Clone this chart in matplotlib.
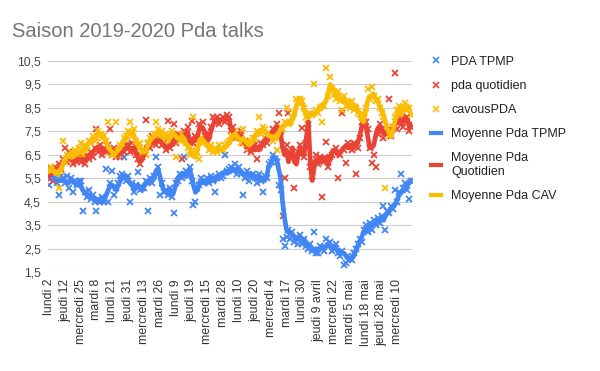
import numpy as np
import matplotlib.pyplot as plt
from matplotlib.lines import Line2D

plt.rcParams['font.family'] = ['Liberation Sans', 'DejaVu Sans']

# x axis labels (one every 8 broadcasts)
tick_labels = ["lundi 2", "jeudi 12", "mercredi 25", "mardi 8", "lundi 21", "jeudi 31",
               "mercredi 13", "mardi 26", "lundi 9", "jeudi 19", "mercredi 15", "mardi 28",
               "lundi 10", "jeudi 20", "mercredi 4", "mardi 17", "lundi 30", "jeudi 9 avril",
               "mercredi 22", "mardi 5 mai", "lundi 18 mai", "jeudi 28 mai", "mercredi 10"]

# PDA TPMP (scatter)
pda_tpmp = [
    5.2, 5.9, 5.5, 5.7, 5.3, 4.8, 5.6, 5.5,
    5.3, 5.6, 5.1, 5.5, 4.9, 5.4, 5.2, 5.4,
    5.4, 4.1, 4.9, 4.7, 5.0, 4.6, 4.8, 4.5,
    4.1, 4.6, 4.5, 4.7, 4.5, 5.9, 4.5, 5.3,
    5.8, 4.8, 5.1, 5.3, 5.6, 5.7, 6.4, 5.4,
    5.6, 4.5, 5.3, 4.9, 5.2, 5.75, 5.0, 5.1,
    5.1, 5.4, 4.1, 5.5, 5.3, 5.6, 6.4, 6.0,
    4.8, 5.3, 4.9, 5.0, 4.8, 5.1, 4.7, 4.0,
    5.3, 5.4, 5.7, 5.5, 6.4, 5.8, 5.6, 6.0,
    5.4, 4.35, 4.5, 5.1, 5.2, 5.5, 5.3, 5.4,
    5.5, 5.3, 5.6, 5.4, 4.9, 5.5, 5.7, 5.5,
    5.6, 6.5, 5.8, 5.9, 6.0, 5.8, 6.1, 5.7,
    6.0, 5.7, 4.8, 5.5, 5.8, 5.4, 5.6, 5.7,
    5.5, 5.3, 5.7, 5.4, 4.9, 5.6, 5.5, 6.1,
    6.2, 6.5, 6.3, 6.2, 5.2, 5.0, 2.9, 2.6,
    3.0, 3.3, 2.9, 3.2, 2.8, 3.0, 2.7, 3.1,
    2.7, 2.9, 2.6, 2.5, 2.7, 2.4, 3.2, 2.3,
    2.3, 2.6, 2.5, 2.4, 2.9, 2.6, 2.8, 2.4,
    2.5, 2.7, 2.3, 2.2, 2.4, 1.8, 1.9, 2.2,
    2.1, 2.0, 2.3, 2.5, 2.7, 2.9, 2.8, 3.3,
    3.5, 3.2, 3.6, 3.3, 3.7, 3.5, 3.8, 3.6,
    3.9, 4.3, 3.3, 4.1, 4.0, 4.3, 4.2, 5.0,
    4.5, 4.9, 5.7, 5.1, 5.3, 5.0, 4.6, 5.4]

# pda quotidien (scatter)
pda_quot = [
    5.7, 5.5, 5.4, 6.0, 5.8, 6.1, 5.9, 6.3,
    6.8, 6.2, 6.6, 6.4, 6.1, 6.5, 6.2, 6.4,
    6.2, 6.4, 6.1, 6.5, 6.3, 6.6, 6.4, 6.8,
    7.6, 6.6, 6.9, 6.5, 6.8, 6.6, 6.9, 7.6,
    6.5, 6.8, 6.4, 6.7, 6.4, 6.8, 6.6, 6.9,
    6.9, 6.6, 7.0, 6.7, 6.5, 6.3, 6.1, 6.4,
    6.7, 8.0, 7.0, 6.8, 7.3, 7.1, 6.9, 7.2,
    7.3, 6.9, 7.0, 6.7, 7.95, 6.8, 7.0, 7.8,
    7.0, 7.4, 7.2, 6.3, 7.5, 7.3, 7.7, 7.0,
    7.95, 7.0, 7.3, 7.2, 7.8, 7.6, 7.9, 7.3,
    7.0, 7.4, 7.7, 8.1, 7.9, 8.1, 7.8, 8.0,
    8.1, 7.9, 8.2, 8.1, 7.5, 7.7, 7.2, 7.4,
    7.3, 7.5, 7.0, 7.1, 6.7, 7.0, 6.6, 6.9,
    6.9, 6.3, 6.8, 7.0, 6.9, 7.2, 7.0, 7.4,
    7.2, 7.6, 7.4, 7.8, 8.3, 7.5, 3.9, 5.5,
    6.9, 8.3, 6.4, 6.5, 5.1, 6.3, 6.6, 6.9,
    7.65, 6.4, 7.0, 7.8, 6.0, 5.6, 6.2, 6.5,
    6.1, 6.4, 4.7, 6.2, 7.05, 6.0, 6.4, 6.5,
    6.6, 6.8, 5.5, 6.5, 8.3, 6.7, 6.15, 7.0,
    6.9, 6.7, 7.0, 5.7, 6.8, 7.2, 7.9, 8.1,
    7.9, 7.6, 6.8, 6.15, 6.5, 6.0, 7.4, 7.8,
    7.5, 7.2, 7.6, 7.4, 8.9, 7.3, 7.7, 10.0,
    7.6, 8.2, 7.9, 7.7, 8.0, 8.1, 7.5, 7.7]

# cavousPDA (scatter)
cavous = [
    5.9, 6.0, 5.7, 5.9, 5.5, 5.1, 5.8, 7.1,
    6.2, 6.5, 6.3, 6.6, 6.4, 6.7, 6.5, 6.8,
    7.0, 6.5, 6.9, 6.7, 7.1, 7.0, 7.3, 7.1,
    7.2, 7.5, 7.4, 7.2, 7.3, 7.1, 7.9, 6.6,
    6.5, 6.7, 7.9, 6.5, 6.9, 6.8, 7.2, 7.3,
    7.5, 7.9, 7.3, 7.6, 7.1, 6.8, 7.0, 6.5,
    6.7, 6.5, 7.0, 7.2, 7.1, 7.4, 7.9, 7.6,
    7.3, 7.5, 7.1, 7.4, 7.3, 7.1, 7.5, 7.2,
    6.4, 7.3, 7.1, 7.4, 7.2, 7.0, 6.8, 6.5,
    6.7, 8.1, 6.5, 6.6, 6.3, 7.2, 7.0, 7.1,
    7.0, 6.7, 6.9, 6.6, 6.8, 6.6, 6.9, 6.8,
    6.7, 6.9, 7.0, 7.1, 7.3, 7.4, 7.5, 7.2,
    7.3, 7.0, 7.6, 7.0, 7.1, 6.8, 7.1, 7.2,
    7.2, 7.5, 8.1, 7.4, 7.7, 7.6, 7.3, 7.4,
    7.4, 7.1, 7.2, 6.7, 7.5, 7.7, 7.6, 7.9,
    8.5, 7.8, 7.9, 8.1, 8.3, 8.9, 8.7, 8.9,
    8.8, 8.5, 8.1, 8.0, 8.3, 8.2, 9.5, 8.4,
    8.3, 8.5, 7.9, 8.6, 10.2, 9.0, 9.8, 9.3,
    9.1, 8.9, 9.2, 8.8, 8.4, 9.0, 8.6, 8.7,
    8.5, 8.8, 8.4, 8.5, 8.3, 8.2, 8.1, 7.8,
    8.5, 9.3, 8.9, 9.4, 9.0, 8.8, 8.9, 8.5,
    8.3, 8.1, 5.1, 7.5, 7.3, 7.4, 7.7, 8.1,
    8.4, 8.6, 8.3, 8.5, 8.7, 8.4, 8.5, 8.2]

# Moyenne Pda TPMP
moy_tpmp = [
    5.6, 5.6, 5.5, 5.5, 5.4, 5.4, 5.4, 5.4,
    5.4, 5.3, 5.3, 5.4, 5.4, 5.3, 5.2, 5.3,
    5.2, 5.0, 4.9, 4.8, 4.8, 4.7, 4.7, 4.6,
    4.6, 4.5, 4.5, 4.6, 4.6, 4.8, 5.0, 5.2,
    5.2, 5.1, 5.0, 5.2, 5.4, 5.5, 5.6, 5.5,
    5.4, 5.3, 5.2, 5.0, 5.1, 5.2, 5.1, 5.0,
    5.2, 5.3, 5.3, 5.4, 5.5, 5.5, 5.8, 5.9,
    5.6, 5.2, 5.0, 4.9, 4.9, 5.0, 4.8, 4.9,
    5.2, 5.5, 5.6, 5.7, 5.7, 5.6, 5.8, 5.9,
    5.6, 5.2, 4.9, 5.0, 5.3, 5.3, 5.4, 5.3,
    5.4, 5.5, 5.4, 5.5, 5.4, 5.6, 5.5, 5.6,
    5.7, 5.8, 5.7, 5.8, 5.9, 5.9, 5.8, 5.9,
    5.8, 5.8, 5.7, 5.6, 5.7, 5.6, 5.7, 5.6,
    5.6, 5.5, 5.6, 5.5, 5.5, 5.4, 5.6, 6.0,
    6.1, 6.3, 6.4, 6.3, 5.9, 5.5, 4.5, 3.8,
    3.3, 3.2, 3.1, 3.1, 3.0, 2.9, 2.9, 3.0,
    2.8, 2.9, 2.7, 2.6, 2.6, 2.5, 2.4, 2.5,
    2.4, 2.5, 2.6, 2.5, 2.6, 2.7, 2.6, 2.5,
    2.6, 2.5, 2.4, 2.3, 2.3, 2.3, 2.2, 2.1,
    2.0, 2.1, 2.2, 2.4, 2.6, 2.8, 3.0, 3.2,
    3.3, 3.4, 3.4, 3.5, 3.6, 3.6, 3.7, 3.7,
    3.8, 3.7, 3.9, 4.0, 4.1, 4.2, 4.3, 4.4,
    4.6, 4.8, 4.9, 5.0, 5.1, 5.2, 5.3, 5.4]

# Moyenne Pda Quotidien
moy_quot = [
    5.6, 5.7, 5.8, 5.8, 5.9, 5.9, 6.0, 6.1,
    6.3, 6.4, 6.4, 6.3, 6.3, 6.2, 6.3, 6.3,
    6.3, 6.2, 6.3, 6.3, 6.4, 6.5, 6.6, 6.7,
    6.8, 6.8, 6.7, 6.7, 6.6, 6.7, 6.7, 6.6,
    6.7, 6.6, 6.5, 6.5, 6.6, 6.6, 6.7, 6.8,
    6.8, 6.8, 6.7, 6.8, 6.6, 6.4, 6.2, 6.3,
    6.5, 6.8, 6.9, 7.0, 7.1, 7.0, 7.1, 7.1,
    7.1, 7.0, 6.9, 6.8, 6.8, 6.9, 6.9, 7.1,
    7.2, 7.2, 7.3, 7.3, 7.2, 7.4, 7.5, 7.1,
    7.1, 7.2, 7.1, 7.3, 7.6, 7.7, 7.6, 7.4,
    7.1, 7.2, 7.6, 7.8, 8.0, 8.0, 7.9, 8.0,
    8.0, 8.1, 8.1, 8.0, 7.6, 7.5, 7.3, 7.3,
    7.4, 7.3, 7.2, 7.0, 6.9, 6.8, 6.8, 6.7,
    6.7, 6.8, 6.7, 6.8, 7.0, 7.1, 7.2, 7.2,
    7.3, 7.5, 7.6, 7.7, 7.6, 7.4, 6.8, 6.5,
    6.7, 6.2, 6.5, 6.8, 6.2, 6.1, 6.6, 6.8,
    6.5, 6.6, 7.2, 7.9, 6.2, 5.4, 6.0, 6.3,
    6.3, 6.2, 6.4, 6.3, 6.4, 6.1, 6.3, 6.6,
    6.7, 6.6, 6.5, 6.6, 6.7, 6.8, 6.9, 6.8,
    6.8, 6.9, 6.8, 6.9, 7.0, 7.3, 7.7, 8.0,
    7.8, 7.3, 6.8, 6.8, 6.9, 7.3, 7.6, 7.7,
    7.6, 7.4, 7.4, 7.5, 7.6, 7.4, 7.6, 7.8,
    7.9, 8.0, 7.8, 7.9, 8.1, 8.0, 7.7, 7.8]

# Moyenne Pda CAV
moy_cav = [
    5.8, 5.9, 5.8, 5.8, 5.7, 5.8, 5.9, 6.1,
    6.3, 6.4, 6.5, 6.4, 6.4, 6.5, 6.6, 6.6,
    6.6, 6.7, 6.8, 6.9, 7.0, 7.1, 7.2, 7.2,
    7.3, 7.4, 7.3, 7.4, 7.2, 7.0, 6.8, 6.7,
    6.6, 6.5, 6.6, 6.7, 6.8, 7.0, 7.1, 7.2,
    7.4, 7.5, 7.5, 7.3, 7.0, 6.9, 6.8, 6.7,
    6.6, 6.7, 6.9, 7.1, 7.2, 7.3, 7.4, 7.5,
    7.4, 7.3, 7.2, 7.3, 7.2, 7.3, 7.4, 7.4,
    7.3, 7.2, 7.2, 7.3, 7.2, 7.0, 6.9, 6.8,
    6.6, 6.5, 6.4, 6.7, 7.1, 7.2, 7.1, 7.0,
    6.9, 6.8, 6.8, 6.7, 6.7, 6.7, 6.8, 6.7,
    6.8, 6.8, 6.9, 7.0, 7.2, 7.3, 7.4, 7.3,
    7.2, 7.1, 7.2, 7.1, 7.0, 6.9, 7.0, 7.1,
    7.3, 7.4, 7.5, 7.5, 7.6, 7.5, 7.4, 7.3,
    7.3, 7.2, 7.3, 7.2, 7.4, 7.6, 7.7, 7.8,
    7.8, 7.9, 7.8, 8.0, 8.2, 8.6, 8.8, 8.9,
    8.7, 8.4, 8.2, 8.1, 8.2, 8.3, 8.2, 8.3,
    8.4, 8.6, 8.5, 8.7, 8.8, 9.1, 9.5, 9.4,
    9.2, 9.0, 9.1, 8.9, 8.8, 8.9, 8.7, 8.8,
    8.6, 8.7, 8.5, 8.6, 8.4, 8.3, 8.0, 7.9,
    8.4, 8.8, 9.0, 9.0, 9.1, 8.9, 8.8, 8.6,
    8.4, 8.2, 7.9, 7.6, 7.4, 7.3, 7.6, 8.0,
    8.3, 8.4, 8.2, 8.5, 8.4, 8.6, 8.4, 8.3]

blue, red, yellow = '#4285F4', '#EA4335', '#FBBC04'
x = np.arange(len(pda_tpmp))

fig = plt.figure(figsize=(6, 3.71), dpi=100)
ax = fig.add_axes([0.08, 0.2668, 0.607, 0.5688])

mk = dict(marker='x', linestyle='none', markersize=5, markeredgewidth=1.3)
ax.plot(x, pda_tpmp, color=blue, **mk)
ax.plot(x, pda_quot, color=red, **mk)
ax.plot(x, cavous, color=yellow, **mk)
ax.plot(x, moy_tpmp, color=blue, lw=3.4, solid_joinstyle='round')
ax.plot(x, moy_quot, color=red, lw=3.4, solid_joinstyle='round')
ax.plot(x, moy_cav, color=yellow, lw=3.4, solid_joinstyle='round')

ax.set_xlim(-0.5, len(x) - 0.5)
ax.set_ylim(1.5, 10.5)
yt = np.arange(1.5, 10.6, 1.0)
ax.set_yticks(yt)
ax.set_yticklabels([f'{v:.1f}'.replace('.', ',') for v in yt], fontsize=8.8, color='#444444')
ax.set_xticks(np.arange(0, len(x), 8))
ax.set_xticklabels(tick_labels, rotation=90, fontsize=8.8, color='#333333')
ax.tick_params(length=0, pad=5)
ax.grid(axis='y', color='#cccccc', lw=0.8)
ax.set_axisbelow(True)
for s in ax.spines.values():
    s.set_visible(False)

fig.text(0.02, 0.915, 'Saison 2019-2020 Pda talks', fontsize=14.5, color='#757575', va='center')

lmk = dict(marker='x', linestyle='none', markersize=4.5, markeredgewidth=1.2)
handles = [
    Line2D([], [], color=blue, **lmk),
    Line2D([], [], color=red, **lmk),
    Line2D([], [], color=yellow, **lmk),
    Line2D([], [], color=blue, lw=3),
    Line2D([], [], color=red, lw=3),
    Line2D([], [], color=yellow, lw=3),
]
names = ['PDA TPMP', 'pda quotidien', 'cavousPDA', 'Moyenne Pda TPMP',
         'Moyenne Pda\nQuotidien', 'Moyenne Pda CAV']
fig.legend(handles, names, loc='upper left', bbox_to_anchor=(0.7, 0.88),
           frameon=False, fontsize=9, handlelength=0.8, handletextpad=0.8,
           labelspacing=0.97, labelcolor='#222222')

fig.savefig('out.png', dpi=100)
